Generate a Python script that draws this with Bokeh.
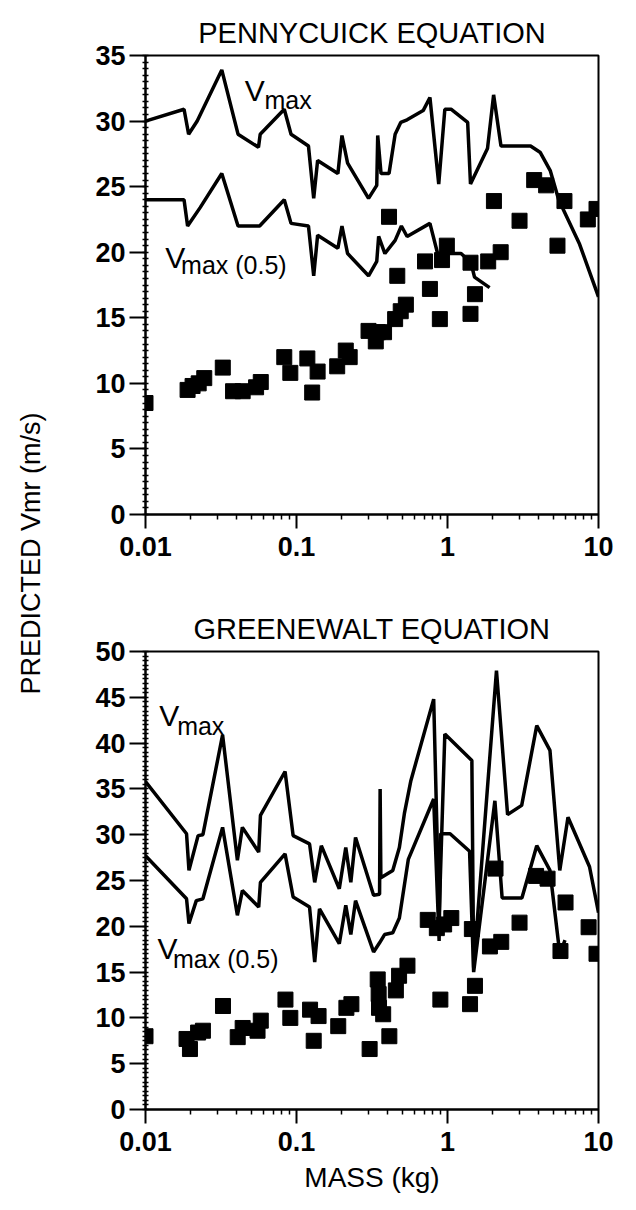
from math import pi
from bokeh.plotting import figure
from bokeh.layouts import row, column
from bokeh.models import FixedTicker, SingleIntervalTicker, Range1d
from bokeh.core.properties import value
from bokeh.embed import file_html
from bokeh.resources import INLINE

FONT = "Liberation Sans"

# ---------------- Pennycuick equation (top panel) ----------------
top_sq_mass = [0.0100, 0.0190, 0.0205, 0.0225, 0.0245, 0.0325, 0.0380, 0.0440, 0.0540, 0.0580,
               0.0830, 0.0910, 0.118, 0.127, 0.138, 0.186, 0.212, 0.225, 0.300, 0.335,
               0.345, 0.380, 0.410, 0.450, 0.465, 0.490, 0.530, 0.710, 0.765, 0.920,
               0.890, 0.990, 1.42, 1.42, 1.52, 1.86, 2.03, 2.25, 3.00, 3.75,
               4.50, 5.35, 5.95, 8.50, 9.70]
top_sq_vmr = [8.5, 9.5, 9.8, 10.0, 10.4, 11.2, 9.4, 9.4, 9.7, 10.1,
              12.0, 10.8, 11.9, 9.3, 10.9, 11.3, 12.5, 12.0, 14.0, 13.2,
              13.9, 13.9, 22.7, 14.9, 18.2, 15.5, 16.0, 19.3, 17.2, 19.4,
              14.9, 20.5, 19.2, 15.3, 16.8, 19.3, 23.9, 20.0, 22.4, 25.5,
              25.1, 20.5, 23.9, 22.5, 23.3]

top_vmax_mass = [0.0100, 0.0180, 0.0193, 0.0220, 0.0320, 0.0410, 0.0560, 0.0575, 0.0830, 0.0920,
                 0.1200, 0.1300, 0.1380, 0.1880, 0.2000, 0.2180, 0.3000, 0.3400, 0.3450, 0.3630,
                 0.4100, 0.4500, 0.4900, 0.5400, 0.6900, 0.7650, 0.8750, 0.9600, 1.0600, 1.3600,
                 1.4200, 1.8400, 2.0200, 2.2600, 3.5500, 4.1200, 4.8000, 5.4500, 7.5000, 10.0]
top_vmax = [30.0, 30.9, 29.0, 30.0, 33.9, 29.0, 28.0, 29.0, 30.9, 29.0,
            28.1, 24.1, 27.0, 26.0, 28.9, 26.8, 24.1, 25.1, 28.9, 26.0,
            26.0, 29.0, 29.9, 30.1, 30.8, 31.8, 25.2, 30.9, 30.9, 29.9,
            25.2, 27.9, 32.0, 28.1, 28.1, 27.6, 26.2, 24.0, 20.6, 16.6]

top_vhalf_mass = [0.0100, 0.0180, 0.0190, 0.0230, 0.0320, 0.0410, 0.0570, 0.0830, 0.0920, 0.1200,
                  0.1300, 0.1380, 0.1880, 0.2000, 0.2180, 0.3000, 0.3400, 0.3500, 0.3850, 0.4500,
                  0.4950, 0.5400, 0.7650, 0.8600, 1.2300, 1.4300, 1.5100, 1.9000]
top_vhalf = [24.0, 24.0, 22.0, 23.4, 26.0, 22.0, 22.0, 24.0, 22.2, 22.0,
             18.2, 21.3, 20.3, 22.0, 19.9, 18.2, 19.3, 21.2, 19.9, 20.9,
             22.0, 21.2, 22.2, 19.9, 19.9, 19.2, 18.1, 17.3]

# ---------------- Greenewalt equation (bottom panel) ----------------
bot_sq_mass = [0.0100, 0.0187, 0.0197, 0.0223, 0.0240, 0.0326, 0.0408, 0.0440, 0.0552, 0.0580,
               0.0845, 0.0910, 0.123, 0.130, 0.140, 0.189, 0.214, 0.231, 0.305, 0.345,
               0.350, 0.352, 0.375, 0.412, 0.455, 0.478, 0.543, 0.740, 0.850, 0.897,
               0.950, 1.06, 1.41, 1.45, 1.52, 1.91, 2.08, 2.27, 3.00, 3.86,
               4.60, 5.60, 6.05, 8.60, 9.70]
bot_sq_vmr = [8.0, 7.7, 6.6, 8.4, 8.6, 11.3, 7.9, 8.9, 8.6, 9.7,
              12.0, 10.0, 10.9, 7.5, 10.2, 9.1, 11.1, 11.5, 6.6, 14.2,
              12.6, 11.1, 10.4, 8.0, 13.0, 14.6, 15.7, 20.7, 19.8, 12.0,
              20.2, 20.9, 11.5, 19.7, 13.5, 17.8, 26.3, 18.3, 20.4, 25.5,
              25.2, 17.3, 22.6, 19.9, 17.0]

bot_vmax_mass = [0.0100, 0.0187, 0.0194, 0.0223, 0.0240, 0.0324, 0.0406, 0.0438, 0.0562, 0.0577,
                 0.0840, 0.0950, 0.1220, 0.1320, 0.1460, 0.1920, 0.2120, 0.2290, 0.2460, 0.3240,
                 0.3550, 0.3580, 0.3620, 0.4340, 0.4800, 0.5180, 0.5720, 0.8100, 0.8800, 0.9600,
                 1.4500, 1.4900, 2.1100, 2.5000, 3.1000, 3.9000, 4.7700, 5.5400, 6.2800, 8.7200,
                 10.0]
bot_vmax = [35.8, 30.1, 26.1, 29.9, 30.0, 40.9, 27.2, 30.8, 28.1, 32.1,
            36.9, 29.9, 29.0, 24.8, 28.8, 24.1, 28.6, 24.8, 29.7, 23.4,
            23.5, 35.0, 25.3, 26.1, 28.6, 32.3, 35.9, 44.8, 21.0, 41.0,
            38.1, 15.5, 47.9, 32.2, 33.2, 41.9, 39.2, 26.1, 31.9, 26.5,
            21.5]

bot_vhalf_mass = [0.0100, 0.0187, 0.0194, 0.0217, 0.0240, 0.0324, 0.0406, 0.0438, 0.0562, 0.0577,
                  0.0840, 0.0950, 0.1220, 0.1320, 0.1420, 0.1920, 0.2120, 0.2290, 0.2460, 0.3240,
                  0.3550, 0.3830, 0.4340, 0.4800, 0.5500, 0.8100, 0.8800, 0.9000, 1.0400, 1.4000,
                  1.4900, 2.0600, 2.3000, 3.1100, 3.9000, 4.7700, 5.5400, 6.0000]
bot_vhalf = [27.7, 23.0, 20.3, 22.8, 23.0, 30.8, 21.2, 23.9, 22.1, 24.8,
             27.9, 23.2, 22.1, 16.1, 21.9, 18.1, 22.3, 19.1, 22.8, 17.2,
             18.2, 19.1, 19.3, 20.9, 27.3, 33.9, 18.4, 30.1, 30.1, 28.2,
             15.0, 33.7, 23.1, 23.1, 28.8, 26.1, 17.0, 18.5]

x_ticks = [0.01, 0.1, 1, 10]
x_tick_labels = ["0.01", "0.1", "1", "10"]
x_minor = [m * d for d in (0.01, 0.1, 1) for m in range(2, 10)]


def make_panel(title, width, height, bl, br, bt, bb, ymax, title_standoff, xlabel=None):
    p = figure(width=width, height=height, x_axis_type="log",
               x_range=Range1d(0.01, 10), y_range=Range1d(0, ymax),
               toolbar_location=None, output_backend="svg",
               min_border_left=bl, min_border_right=br,
               min_border_top=bt, min_border_bottom=bb)
    p.title.text = title
    p.title.align = "center"
    p.title.text_font = FONT
    p.title.text_font_size = "29px"
    p.title.text_font_style = "normal"
    p.title.text_color = "black"
    p.title.standoff = title_standoff
    p.grid.visible = False
    p.outline_line_color = "black"
    p.outline_line_width = 2
    p.outline_line_alpha = 1.0
    p.background_fill_color = "white"
    p.border_fill_color = "white"

    xa = p.xaxis[0]
    xa.ticker = FixedTicker(ticks=x_ticks, minor_ticks=x_minor)
    xa.major_label_overrides = {t: l for t, l in zip(x_ticks, x_tick_labels)}
    xa.major_tick_out = 14
    xa.major_tick_in = 0
    xa.minor_tick_out = 5
    xa.minor_tick_in = 0
    xa.major_label_standoff = 8
    ya = p.yaxis[0]
    ya.ticker = SingleIntervalTicker(interval=5, num_minor_ticks=10)
    ya.major_tick_out = 16
    ya.major_tick_in = 0
    ya.minor_tick_out = 3
    ya.minor_tick_in = 3
    ya.major_label_standoff = 4
    for ax in (xa, ya):
        ax.axis_line_width = 2
        ax.axis_line_color = "black"
        ax.major_tick_line_width = 2
        ax.major_tick_line_color = "black"
        ax.minor_tick_line_width = 1.5
        ax.minor_tick_line_color = "black"
        ax.major_label_text_font = FONT
        ax.major_label_text_font_size = "27px"
        ax.major_label_text_font_style = "bold"
        ax.major_label_text_color = "black"
    if xlabel:
        xa.axis_label = xlabel
        xa.axis_label_text_font = FONT
        xa.axis_label_text_font_size = "28px"
        xa.axis_label_text_font_style = "normal"
        xa.axis_label_text_color = "black"
        xa.axis_label_standoff = 8
    return p


def add_label(p, x, y, big, sub, x2, y2):
    p.text(x=[x], y=[y], text=[big], text_font=value(FONT), text_font_size="30px",
           text_align="left", text_baseline="alphabetic", text_color="black")
    p.text(x=[x2], y=[y2], text=[sub], text_font=value(FONT), text_font_size="25px",
           text_align="left", text_baseline="alphabetic", text_color="black")


LW = 3.5

top = make_panel("PENNYCUICK EQUATION", 576, 585, 85, 34, 55, 71, 35, 14)
top.line(top_vmax_mass, top_vmax, line_color="black", line_width=LW)
top.line(top_vhalf_mass, top_vhalf, line_color="black", line_width=LW)
top.scatter(top_sq_mass, top_sq_vmr, marker="square", size=15, fill_color="black", line_color="black")
add_label(top, 0.0454, 32.3, "V", "max", 0.0614, 31.6)
add_label(top, 0.0135, 19.6, "V", "max (0.5)", 0.0172, 19.0)

bot = make_panel("GREENEWALT EQUATION", 576, 625, 80, 38, 66, 101, 50, 14, xlabel="MASS (kg)")
bot.line(bot_vmax_mass, bot_vmax, line_color="black", line_width=LW)
bot.line(bot_vhalf_mass, bot_vhalf, line_color="black", line_width=LW)
bot.scatter(bot_sq_mass, bot_sq_vmr, marker="square", size=15, fill_color="black", line_color="black")
add_label(bot, 0.01235, 43.0, "V", "max", 0.0162, 41.9)
add_label(bot, 0.0120, 17.6, "V", "max (0.5)", 0.0152, 16.4)

# shared y-axis title in a narrow strip at the left
lab = figure(width=60, height=1210, x_range=Range1d(0, 60), y_range=Range1d(0, 1210),
             x_axis_type=None, y_axis_type=None, toolbar_location=None, output_backend="svg",
             min_border=0, outline_line_color=None)
lab.grid.visible = False
lab.text(x=[30], y=[657], text=["PREDICTED Vmr (m/s)"], angle=pi / 2,
         text_font=value(FONT), text_font_size="27px", text_align="center",
         text_baseline="middle", text_color="black")

layout = row(lab, column(top, bot))
open("out.html", "w").write(file_html(layout, INLINE))
